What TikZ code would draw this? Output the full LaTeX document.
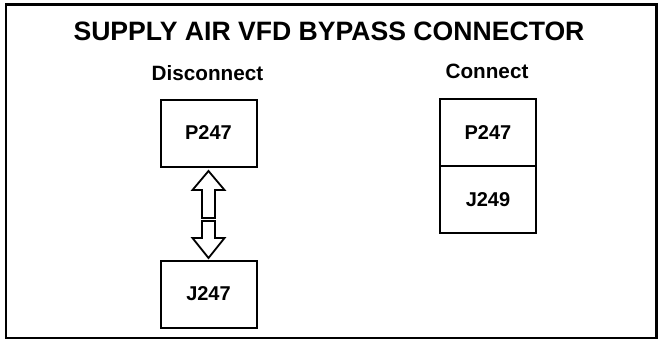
\documentclass[tikz,border=0pt]{standalone}
\usepackage{fontspec}
\setmainfont{Liberation Sans}
\begin{document}
\begin{tikzpicture}[
  x=1pt, y=-1pt,
  plug/.style={draw,line width=2pt,minimum width=96pt,minimum height=67pt,inner sep=0pt,outer sep=0pt,font=\fontsize{20}{20}\selectfont\bfseries},
  heading/.style={font=\fontsize{20.7}{20.7}\selectfont\bfseries},
  hollow/.style={draw,line width=1.8pt,fill=white,line join=miter},
]
  \useasboundingbox (0,0) rectangle (659,343);
  \draw[line width=2.4pt] (6,4.5) rectangle (656.5,338);

  \node[font=\fontsize{26.6}{26.6}\selectfont\bfseries] (title) at (329,31) {SUPPLY AIR VFD BYPASS CONNECTOR};

  % Left: disconnected
  \node[heading] (dis) at (207.5,73) {Disconnect};
  \node[plug] (LP) at (208.5,133) {P247};
  \node[plug] (LJ) at (208.5,294) {J247};

  % hollow arrows between the two halves
  \coordinate (upTip) at (LP.south |- 0,171);
  \coordinate (dnTip) at (LJ.north |- 0,258);
  \draw[hollow] (upTip) -- ++(16,19) -- ++(-9.5,0) -- ++(0,28) -- ++(-13,0)
    -- ++(0,-28) -- ++(-9.5,0) -- cycle;
  \draw[hollow] (dnTip) -- ++(16,-20) -- ++(-9.5,0) -- ++(0,-17) -- ++(-13,0)
    -- ++(0,17) -- ++(-9.5,0) -- cycle;

  % Right: connected
  \node[heading] (con) at (487,71) {Connect};
  \node[plug] (RP) at (488,132.5) {P247};
  \node[plug,anchor=north] (RJ) at (RP.south) {J249};
\end{tikzpicture}
\end{document}
